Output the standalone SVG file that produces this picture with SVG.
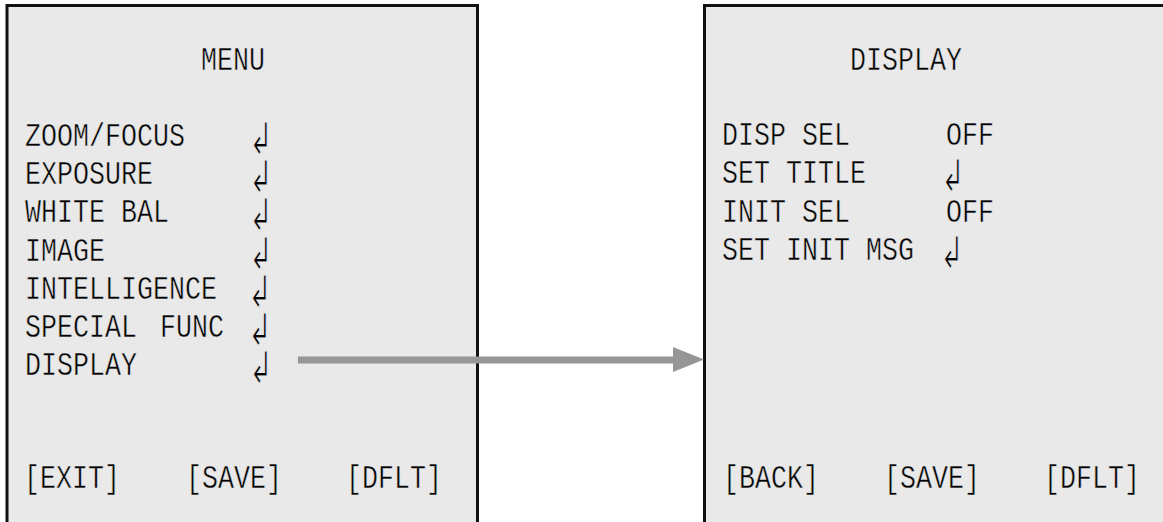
<svg xmlns="http://www.w3.org/2000/svg" width="1163" height="522" viewBox="0 0 1163 522">
  <style>
    .panel { fill: #e9e9e9; stroke: #111111; stroke-width: 3; }
    /* thin screen font: the panel-coloured stroke trims the glyph edges */
    .t { font-family: "Liberation Mono", "DejaVu Sans Mono", monospace; font-size: 33px; fill: #000000; stroke: #e9e9e9; stroke-width: 0.5; }
    .ent { font-family: "DejaVu Sans", "Noto Sans", sans-serif; font-size: 44px; fill: #000000; stroke: #e9e9e9; stroke-width: 1.2; }
    .conn { stroke: #969696; stroke-width: 7; fill: none; }
    .head { fill: #969696; }
  </style>
  <rect width="1163" height="522" fill="#ffffff"/>

  <!-- main menu screen -->
  <g id="menu">
    <rect class="panel" x="7" y="5.5" width="470.5" height="530"/>
    <text class="t" x="201" y="70" textLength="64" lengthAdjust="spacingAndGlyphs">MENU</text>
    <text class="t" x="25" y="146" textLength="160" lengthAdjust="spacingAndGlyphs">ZOOM/FOCUS</text>
    <text class="t" x="25" y="184" textLength="128" lengthAdjust="spacingAndGlyphs">EXPOSURE</text>
    <text class="t" x="25" y="222" textLength="144" lengthAdjust="spacingAndGlyphs">WHITE BAL</text>
    <text class="t" x="25" y="261" textLength="80" lengthAdjust="spacingAndGlyphs">IMAGE</text>
    <text class="t" x="25" y="299" textLength="192" lengthAdjust="spacingAndGlyphs">INTELLIGENCE</text>
    <text class="t" x="25" y="337" textLength="112" lengthAdjust="spacingAndGlyphs">SPECIAL</text>
    <text class="t" x="160" y="337" textLength="64" lengthAdjust="spacingAndGlyphs">FUNC</text>
    <text class="t" x="25" y="375" textLength="112" lengthAdjust="spacingAndGlyphs">DISPLAY</text>
    <!-- enter marks, narrowed to the tall screen-font shape -->
    <text class="ent" transform="translate(249,154) scale(0.65,1)">↲</text>
    <text class="ent" transform="translate(249,192) scale(0.65,1)">↲</text>
    <text class="ent" transform="translate(249,230) scale(0.65,1)">↲</text>
    <text class="ent" transform="translate(249,269) scale(0.65,1)">↲</text>
    <text class="ent" transform="translate(248,307) scale(0.65,1)">↲</text>
    <text class="ent" transform="translate(248,345) scale(0.65,1)">↲</text>
    <text class="ent" transform="translate(249,383) scale(0.65,1)">↲</text>
    <text class="t" x="24" y="488" textLength="96" lengthAdjust="spacingAndGlyphs">[EXIT]</text>
    <text class="t" x="186" y="488" textLength="96" lengthAdjust="spacingAndGlyphs">[SAVE]</text>
    <text class="t" x="346" y="488" textLength="96" lengthAdjust="spacingAndGlyphs">[DFLT]</text>
  </g>

  <!-- display settings screen -->
  <g id="display">
    <rect class="panel" x="704.5" y="5.5" width="480" height="530"/>
    <text class="t" x="850" y="70" textLength="112" lengthAdjust="spacingAndGlyphs">DISPLAY</text>
    <text class="t" x="722" y="145" textLength="128" lengthAdjust="spacingAndGlyphs">DISP SEL</text>
    <text class="t" x="946" y="145" textLength="48" lengthAdjust="spacingAndGlyphs">OFF</text>
    <text class="t" x="722" y="183" textLength="144" lengthAdjust="spacingAndGlyphs">SET TITLE</text>
    <text class="ent" transform="translate(941,191) scale(0.65,1)">↲</text>
    <text class="t" x="722" y="222" textLength="128" lengthAdjust="spacingAndGlyphs">INIT SEL</text>
    <text class="t" x="946" y="222" textLength="48" lengthAdjust="spacingAndGlyphs">OFF</text>
    <text class="t" x="722" y="260" textLength="192" lengthAdjust="spacingAndGlyphs">SET INIT MSG</text>
    <text class="ent" transform="translate(940,268) scale(0.65,1)">↲</text>
    <text class="t" x="723" y="488" textLength="96" lengthAdjust="spacingAndGlyphs">[BACK]</text>
    <text class="t" x="884" y="488" textLength="96" lengthAdjust="spacingAndGlyphs">[SAVE]</text>
    <text class="t" x="1044" y="488" textLength="96" lengthAdjust="spacingAndGlyphs">[DFLT]</text>
  </g>

  <!-- connector: DISPLAY item opens the display screen -->
  <g id="connectors">
    <line class="conn" x1="298" y1="360" x2="674" y2="360"/>
    <polygon class="head" points="673,347 704,359.5 673,372"/>
  </g>
</svg>
